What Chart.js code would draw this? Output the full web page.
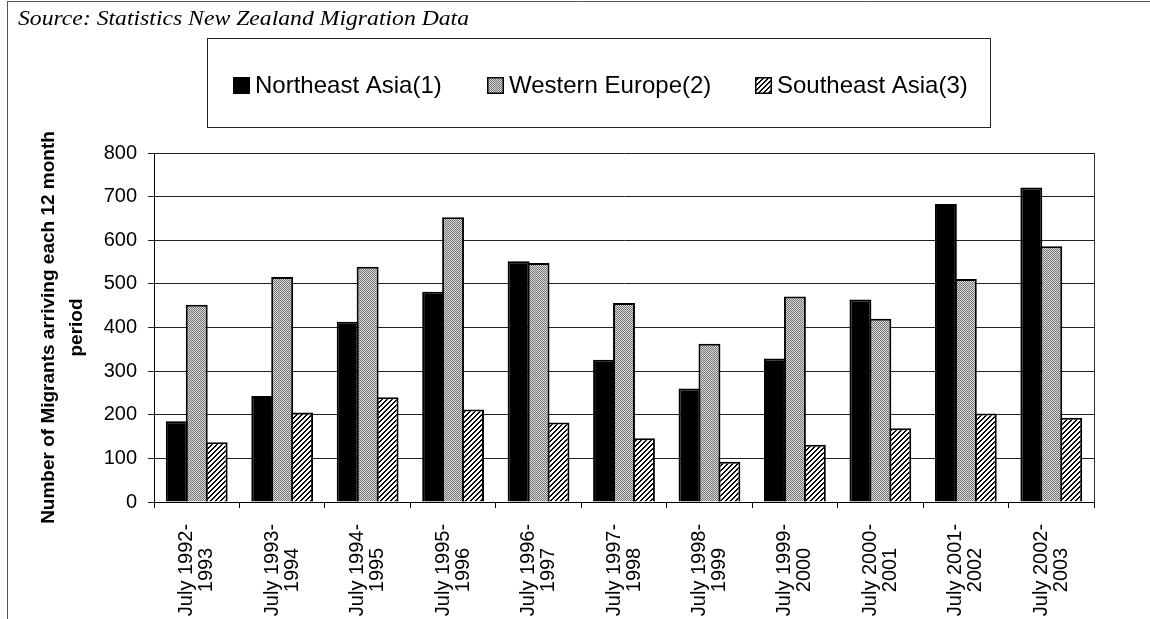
<!DOCTYPE html>
<html>
<head>
<meta charset="utf-8">
<script src="https://cdn.jsdelivr.net/npm/chart.js@4.4.0/dist/chart.umd.min.js"></script>
<style>
  html, body { margin: 0; padding: 0; background: #fff; }
  #wrap { width: 1150px; height: 619px; }
</style>
</head>
<body>
<div id="wrap"><canvas id="myChart" width="1150" height="619"></canvas></div>
<script>
// data
const periods = [
  ['July 1992-', '1993'], ['July 1993-', '1994'], ['July 1994-', '1995'],
  ['July 1995-', '1996'], ['July 1996-', '1997'], ['July 1997-', '1998'],
  ['July 1998-', '1999'], ['July 1999-', '2000'], ['July 2000-', '2001'],
  ['July 2001-', '2002'], ['July 2002-', '2003']
];
const northeastAsia = [185, 243, 413, 482, 552, 326, 260, 329, 464, 683, 721];
const westernEurope = [452, 516, 539, 653, 548, 456, 363, 471, 420, 511, 586];
const southeastAsia = [137, 205, 240, 212, 182, 146, 92, 131, 169, 203, 193];
const yTicks = [0, 100, 200, 300, 400, 500, 600, 700, 800];
const seriesNames = ['Northeast Asia(1)', 'Western Europe(2)', 'Southeast Asia(3)'];
const sourceNote = 'Source: Statistics New Zealand Migration Data';
const yTitle = ['Number of Migrants arriving each 12 month', 'period'];

const SANS = '"Liberation Sans", Arial, sans-serif';
const SERIF = '"Liberation Serif", "Times New Roman", serif';

//================ fill patterns ================
function stipple() {
  const c = document.createElement('canvas');
  c.width = 2; c.height = 2;
  const g = c.getContext('2d');
  g.fillStyle = '#d8d8d8'; g.fillRect(0, 0, 2, 2);
  g.fillStyle = '#767676'; g.fillRect(0, 0, 1, 1); g.fillRect(1, 1, 1, 1);
  return g.createPattern(c, 'repeat');
}

function hatch() {
  const n = 5;
  const c = document.createElement('canvas');
  c.width = n; c.height = n;
  const g = c.getContext('2d');
  g.fillStyle = '#fff'; g.fillRect(0, 0, n, n);
  g.fillStyle = '#000';
  for (let x = 0; x < n; x++) {
    for (let y = 0; y < n; y++) {
      if ((x + y) % n < 2) g.fillRect(x, y, 1, 1);
    }
  }
  return g.createPattern(c, 'repeat');
}

const fills = ['#000', stipple(), hatch()];

//================ extra drawing ================
const decor = {
  id: 'decor',
  beforeDraw(chart) {
    const c = chart.ctx;
    c.save();
    c.fillStyle = '#fff';
    c.fillRect(0, 0, chart.width, chart.height);

    // scan frame
    c.strokeStyle = '#555';
    c.lineWidth = 1;
    c.beginPath();
    c.moveTo(7, 1.5); c.lineTo(chart.width, 1.5);
    c.moveTo(7.5, 1); c.lineTo(7.5, chart.height);
    c.stroke();

    // source line, squeezed to the scan's width
    c.fillStyle = '#000';
    c.font = 'italic 21px ' + SERIF;
    c.textBaseline = 'alphabetic';
    c.textAlign = 'left';
    const w = c.measureText(sourceNote).width;
    c.save();
    c.translate(18, 25);
    c.scale(451 / w, 1);
    c.fillText(sourceNote, 0, 0);
    c.restore();

    // legend box
    c.strokeStyle = '#222';
    c.strokeRect(207.5, 38.5, 783, 89);
    const starts = [233, 487, 755];
    c.font = '24px ' + SANS;
    c.textBaseline = 'middle';
    seriesNames.forEach((name, i) => {
      const x = starts[i];
      c.fillStyle = fills[i];
      c.fillRect(x, 77, 17, 17);
      c.strokeStyle = '#000';
      c.lineWidth = 1.5;
      c.strokeRect(x + 0.75, 77.75, 15.5, 15.5);
      c.fillStyle = '#000';
      c.fillText(name, x + 22, 86);
    });
    c.restore();
  },
  beforeDatasetsDraw(chart) {
    const a = chart.chartArea;
    const c = chart.ctx;
    c.save();
    c.strokeStyle = '#333';
    c.lineWidth = 1;
    c.beginPath();
    c.moveTo(Math.round(a.right) + 0.5, a.top);
    c.lineTo(Math.round(a.right) + 0.5, a.bottom);
    c.stroke();
    c.restore();
  },
  afterDraw(chart) {
    const c = chart.ctx;
    const xs = chart.scales.x;
    const a = chart.chartArea;
    c.save();
    c.fillStyle = '#000';
    c.textAlign = 'center';
    c.textBaseline = 'middle';

    // category labels, turned upright
    c.font = '20px ' + SANS;
    periods.forEach((lines, i) => {
      const x = xs.getPixelForTick(i);
      lines.forEach((txt, j) => {
        c.save();
        c.translate(x - 10 + j * 20, 570);
        c.rotate(-Math.PI / 2);
        c.fillText(txt, 0, 0);
        c.restore();
      });
    });

    // y axis title, centred on the plot
    c.font = 'bold 19px ' + SANS;
    yTitle.forEach((txt, j) => {
      c.save();
      c.translate(49 + j * 28, (a.top + a.bottom) / 2);
      c.rotate(-Math.PI / 2);
      c.fillText(txt, 0, 0);
      c.restore();
    });
    c.restore();
  }
};

//================ chart ================
const ctx = document.getElementById('myChart').getContext('2d');
const chart = new Chart(ctx, {
  type: 'bar',
  data: {
    labels: periods,
    datasets: [
      { label: seriesNames[0], data: northeastAsia, backgroundColor: fills[0], borderColor: '#000', borderWidth: 2 },
      { label: seriesNames[1], data: westernEurope, backgroundColor: fills[1], borderColor: '#000', borderWidth: 2 },
      { label: seriesNames[2], data: southeastAsia, backgroundColor: fills[2], borderColor: '#000', borderWidth: 2 }
    ]
  },
  options: {
    responsive: false,
    animation: false,
    devicePixelRatio: 1,
    layout: { padding: { top: 153, right: 56, left: 0, bottom: 0 } },
    datasets: { bar: { categoryPercentage: 0.7, barPercentage: 1.1 } },
    plugins: {
      legend: { display: false },
      tooltip: { enabled: false }
    },
    scales: {
      x: {
        grid: { offset: true, drawOnChartArea: false, color: '#000', tickLength: 6 },
        border: { color: '#000' },
        ticks: { display: false },
        afterFit: s => { s.height = 117; }
      },
      y: {
        min: yTicks[0],
        max: yTicks[yTicks.length - 1],
        afterBuildTicks: s => { s.ticks = yTicks.map(v => ({ value: v })); },
        ticks: { font: { size: 20, family: SANS }, color: '#000', padding: 11 },
        grid: { color: '#222', tickLength: 6 },
        border: { color: '#000' },
        afterFit: s => { s.width = 154; }
      }
    }
  },
  plugins: [decor]
});
</script>
</body>
</html>
